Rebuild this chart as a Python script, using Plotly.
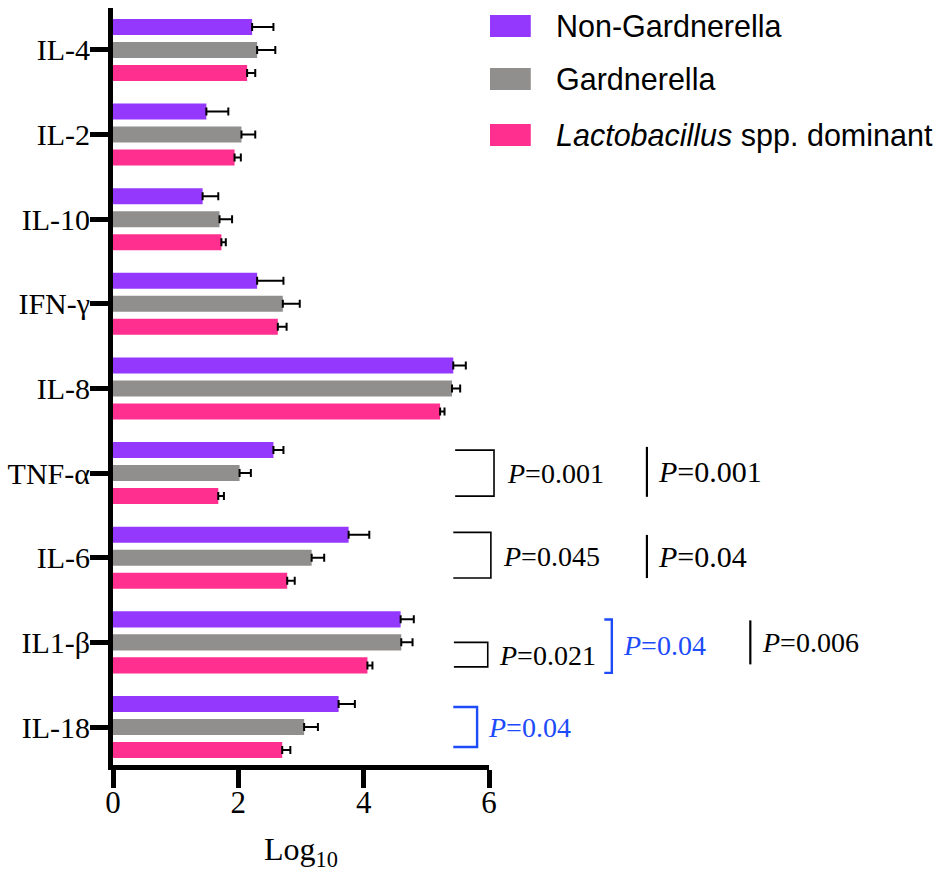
import plotly.graph_objects as go

# Cytokine levels (log10) by vaginal microbiota group, listed bottom to top
cytokines = ["IL-18", "IL1-β", "IL-6", "TNF-α", "IL-8", "IFN-γ", "IL-10", "IL-2", "IL-4"]

lacto_mean = [2.70, 4.06, 2.78, 1.68, 5.22, 2.63, 1.73, 1.94, 2.14]
lacto_sem = [0.13, 0.08, 0.12, 0.09, 0.07, 0.14, 0.07, 0.10, 0.13]

gard_mean = [3.05, 4.60, 3.17, 2.02, 5.41, 2.71, 1.70, 2.05, 2.30]
gard_sem = [0.22, 0.18, 0.20, 0.18, 0.13, 0.27, 0.20, 0.22, 0.29]

nongard_mean = [3.60, 4.59, 3.76, 2.56, 5.43, 2.30, 1.43, 1.49, 2.22]
nongard_sem = [0.26, 0.21, 0.33, 0.16, 0.20, 0.42, 0.25, 0.35, 0.34]

groups = ["Non-Gardnerella", "Gardnerella", "<i>Lactobacillus</i> spp. dominant"]
colors = {"nongard": "#9538FE", "gard": "#918F8D", "lacto": "#FF2F8F"}
BLUE = "#1E4BFA"

W, H = 939, 875
ML, MR, MT, MB = 111, 450, 8, 110
X_MAX = 6.0
Y_MIN, Y_MAX = -0.449, 8.496
OFF = 0.272  # centre offset of the outer bars within a group

fig = go.Figure()


def add_bars(vals, errs, color, name):
    fig.add_trace(go.Bar(
        y=cytokines, x=vals, orientation="h", name=name,
        marker=dict(color=color, line=dict(width=0)),
        error_x=dict(type="data", array=errs, arrayminus=[0] * len(errs),
                     symmetric=False, color="black", thickness=2, width=4),
        showlegend=False,
    ))


# first trace sits lowest in each group
add_bars(lacto_mean, lacto_sem, colors["lacto"], groups[2])
add_bars(gard_mean, gard_sem, colors["gard"], groups[1])
add_bars(nongard_mean, nongard_sem, colors["nongard"], groups[0])


def px(xv):
    return xv / X_MAX


def py(yv):
    return (yv - Y_MIN) / (Y_MAX - Y_MIN)


def idx(name):
    return cytokines.index(name)


shapes = []
annos = []


def bracket(x0, x1, y0, y1, color="black", w=1.6):
    # open-left bracket: top arm, vertical spine, bottom arm
    shapes.append(dict(type="path", xref="paper", yref="paper",
                       path=f"M {px(x0)},{py(y0)} L {px(x1)},{py(y0)} L {px(x1)},{py(y1)} L {px(x0)},{py(y1)}",
                       line=dict(color=color, width=w)))


def vline(x, y0, y1, color="black", w=2.2):
    shapes.append(dict(type="line", xref="paper", yref="paper",
                       x0=px(x), x1=px(x), y0=py(y0), y1=py(y1),
                       line=dict(color=color, width=w)))


def ptext(x, y, value, size=28, color="black"):
    annos.append(dict(xref="paper", yref="paper", x=px(x), y=py(y),
                      xanchor="left", yanchor="middle", showarrow=False,
                      text=f"<i>P</i>={value}",
                      font=dict(family="Liberation Serif", size=size, color=color)))


# TNF-α
i = idx("TNF-α")
bracket(5.46, 6.08, i + OFF, i - OFF)
ptext(6.25, i, "0.001")
vline(8.52, i + 0.31, i - 0.28)
ptext(8.67, i + 0.02, "0.001", size=30)

# IL-6
i = idx("IL-6")
bracket(5.43, 6.03, i + 0.30, i - 0.24)
ptext(6.19, i + 0.02, "0.045")
vline(8.52, i + 0.27, i - 0.24)
ptext(8.67, i + 0.01, "0.04", size=30)

# IL1-β
i = idx("IL1-β")
bracket(5.44, 5.98, i, i - 0.29)
ptext(6.13, i - 0.15, "0.021")
bracket(7.84, 7.96, i + 0.27, i - 0.36, color=BLUE, w=2.4)
ptext(8.10, i - 0.04, "0.04", color=BLUE)
vline(10.17, i + 0.26, i - 0.26)
ptext(10.33, i, "0.006")

# IL-18
i = idx("IL-18")
bracket(5.43, 5.81, i + 0.236, i - 0.236, color=BLUE, w=2.4)
ptext(5.95, i, "0.04", color=BLUE)

# Legend drawn as swatches + labels
plot_w = W - ML - MR
plot_h = H - MT - MB


def lx(p):
    return (p - ML) / plot_w


def ly(p):
    return (H - MB - p) / plot_h


legend_rows = [(groups[0], colors["nongard"], 26),
               (groups[1], colors["gard"], 79),
               (groups[2], colors["lacto"], 135)]
for label, col, yc in legend_rows:
    shapes.append(dict(type="rect", xref="paper", yref="paper",
                       x0=lx(490), x1=lx(531), y0=ly(yc + 11), y1=ly(yc - 11),
                       fillcolor=col, line=dict(width=0)))
    annos.append(dict(xref="paper", yref="paper", x=lx(554), y=ly(yc),
                      xanchor="left", yanchor="middle", showarrow=False,
                      text=label,
                      font=dict(family="Liberation Sans", size=30.5, color="black")))

fig.update_layout(
    width=W, height=H,
    margin=dict(l=ML, r=MR, t=MT, b=MB, pad=0),
    paper_bgcolor="white", plot_bgcolor="white",
    barmode="group", bargap=0.1846, bargroupgap=0.304,
    shapes=shapes, annotations=annos,
    font=dict(family="Liberation Serif", color="black"),
    xaxis=dict(
        range=[0, X_MAX], tickvals=[0, 2, 4, 6],
        showgrid=False, zeroline=False,
        showline=True, linecolor="black", linewidth=5,
        ticks="outside", ticklen=18, tickwidth=5, tickcolor="black",
        ticklabelstandoff=-12,
        tickfont=dict(family="Liberation Serif", size=31, color="black"),
        title=dict(text="Log<sub>10</sub>", standoff=20,
                   font=dict(family="Liberation Serif", size=32, color="black")),
    ),
    yaxis=dict(
        type="category", categoryorder="array", categoryarray=cytokines,
        range=[Y_MIN, Y_MAX],
        showgrid=False, zeroline=False,
        showline=True, linecolor="black", linewidth=5,
        ticks="outside", ticklen=18, tickwidth=5, tickcolor="black",
        ticklabelstandoff=-6,
        tickfont=dict(family="Liberation Serif", size=30, color="black"),
    ),
)

fig.write_html("out.html")
